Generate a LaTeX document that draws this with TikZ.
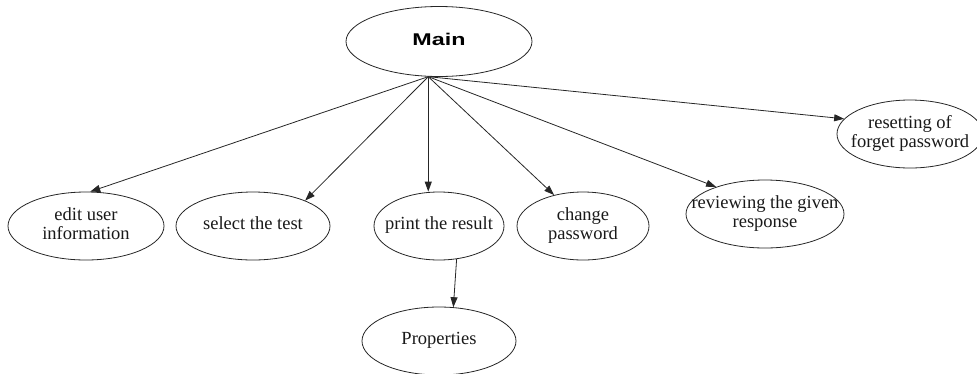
\documentclass[tikz,border=0pt]{standalone}
\usepackage{fontspec}
\setmainfont{Liberation Serif}
\newfontfamily\headfont{Liberation Sans}
\usetikzlibrary{shapes.geometric,arrows.meta}

% label whose width does not grow the ellipse around it
\newcommand{\uclabel}[1]{\makebox[0pt][c]{\begin{tabular}{@{}c@{}}#1\end{tabular}}}

\tikzset{
  usecase/.style={draw=black!85, line width=0.8pt, ellipse, inner sep=0pt,
    font=\fontsize{18.5}{19.5}\selectfont, text=black!90},
  link/.style={draw=black!85, line width=0.8pt,
    -{Triangle[length=10pt,width=7pt]}},
}

\begin{document}
\begin{tikzpicture}[x=1pt,y=-1pt]
  \useasboundingbox (0,0) rectangle (977,373);

  % root node
  \node[usecase, minimum width=186pt, minimum height=70pt,
        font=\headfont\bfseries\fontsize{17}{19}\selectfont, text=black]
        (main) at (439,41.5) {\uclabel{\scalebox{1.37}[1]{Main}}};
  \coordinate (hub) at (main.-107);

  % first level
  \node[usecase, minimum width=156pt, minimum height=68pt] (edit)   at (86,226)  {\uclabel{edit user\\information}};
  \node[usecase, minimum width=154pt, minimum height=68pt] (select) at (253,226) {\uclabel{select the test}};
  \node[usecase, minimum width=130pt, minimum height=68pt] (print)  at (439,226) {\uclabel{print the result}};
  \node[usecase, minimum width=132pt, minimum height=68pt] (change) at (583,226) {\uclabel{change\\password}};
  \node[usecase, minimum width=158pt, minimum height=68pt] (review) at (765,214) {\uclabel{reviewing the given\\response}};
  \node[usecase, minimum width=146pt, minimum height=68pt] (reset)  at (910,134) {\uclabel{resetting of\\forget password}};

  % second level
  \node[usecase, minimum width=154pt, minimum height=68pt] (props)  at (439,341) {\uclabel{Properties}};

  % connectors
  \draw[link] (hub) -- (edit.83);
  \draw[link] (hub) -- (select.26);
  \draw[link] (hub) -- (hub |- print.north);
  \draw[link] (hub) -- (change.133);
  \draw[link] (hub) -- (review.151);
  \draw[link] (hub) -- (reset.167);
  \draw[link] (print.-62) -- (props.67);
\end{tikzpicture}
\end{document}
